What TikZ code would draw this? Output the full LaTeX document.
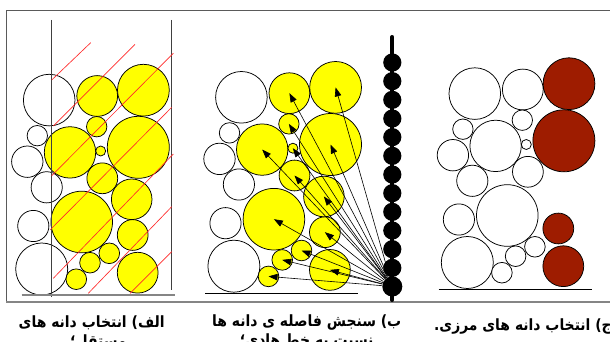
\documentclass[tikz,border=0pt]{standalone}
\usepackage{fontspec}
\usetikzlibrary{arrows.meta}
\TeXXeTstate=1
\newfontfamily\arabicfont[Script=Arabic,FakeStretch=0.9]{DejaVu Sans}
\definecolor{grainyellow}{HTML}{FFFF00}
\definecolor{grainred}{HTML}{9E1C00}
\definecolor{framegray}{HTML}{5A5A5A}
\definecolor{basegray}{HTML}{858585}
\definecolor{hatchred}{HTML}{FF2A2A}
\tikzset{
  grain/.style={draw=black, line width=0.75pt},
  whitegrain/.style={grain, fill=white},
  yellowgrain/.style={grain, fill=grainyellow},
  redgrain/.style={grain, fill=grainred},
  hatch/.style={draw=hatchred, line width=0.65pt},
  frameline/.style={draw=framegray, line width=0.9pt},
  guide/.style={draw=black!75, line width=0.8pt},
  caption/.style={font=\arabicfont\bfseries\fontsize{15.5}{18}\selectfont, anchor=base, inner sep=0pt},
  measure/.style={-{Triangle[length=9pt,width=6.5pt]}, line width=0.6pt},
  bead/.style={circle, fill=black, draw=none, inner sep=0pt, minimum size=18.2pt},
}
% grains: name/x/y/r (panel A coordinates)
\def\Wlist{w1/49.2/100.1/25.8, w2/37.3/135.7/10.2, w3/27.3/161.7/15.7, w4/46.7/187.3/15.6, w5/33.3/226/15.6, w6/41.7/269/26}
\def\Ylist{y7/97.2/96/20.4, y9/96.7/126.7/10.2, y10/70/152.4/25.7, y12/100.7/151/5, y13/102.3/178.3/15.4, y15/81.7/222/30.8, y17/109.3/253.3/10.3, y18/90/262.7/10.3, y19/76.3/279.2/10.3}
\def\Rlist{y8/143.4/90.2/25.9, y11/138.3/147.3/31, y16/132.7/235/15.4, y20/137.7/272.7/20.4}
\def\Xlist{y14/131.7/199.3/20.3}
\begin{document}
\begin{tikzpicture}[x=1pt,y=-1pt]
\useasboundingbox (0,0) rectangle (610,342);
\clip (0,0) rectangle (610,342);
\fill[white] (0,0) rectangle (610,342);
% frame
\draw[frameline] (615,10.7) -- (6.7,10.7) -- (6.7,301.7);
\draw[draw=basegray, line width=2pt] (6.2,301.7) -- (615,301.7);

% ---------- panel A ----------
\begin{scope}
  \foreach \n/\x/\y/\r in \Wlist {\draw[whitegrain] (\x,\y) circle[radius=\r];}
  \foreach \n/\x/\y/\r in \Ylist {\draw[yellowgrain] (\x,\y) circle[radius=\r];}
  \foreach \n/\x/\y/\r in \Rlist {\draw[yellowgrain] (\x,\y) circle[radius=\r];}
  \foreach \n/\x/\y/\r in \Xlist {\draw[yellowgrain] (\x,\y) circle[radius=\r];}
\end{scope}
\draw[guide] (51.7,20) -- (51.7,297);
\draw[guide] (171.7,20) -- (171.7,290);
\draw[draw=basegray, line width=1.6pt] (21.7,295) -- (175,295);
\draw[hatch] (51.7,80) -- (90.7,42.7);
\draw[hatch] (53.3,126) -- (135,44.3);
\draw[hatch] (51.7,175.7) -- (173.3,53.3);
\draw[hatch] (50,230) -- (171.7,107.3);
\draw[hatch] (53.3,278.3) -- (173.3,154);
\draw[hatch] (88.3,293.3) -- (171.7,206.7);
\draw[hatch] (130,293.3) -- (171.7,251.7);

% ---------- panel B ----------
\begin{scope}[shift={(192.2,-2.8)}]
  \foreach \n/\x/\y/\r in \Wlist {\draw[whitegrain] (\x,\y) circle[radius=\r];}
  \foreach \n/\x/\y/\r in \Ylist {\draw[yellowgrain] (\x,\y) circle[radius=\r]; \coordinate (b\n) at (\x,\y);}
  \foreach \n/\x/\y/\r in \Rlist {\draw[yellowgrain] (\x,\y) circle[radius=\r]; \coordinate (b\n) at (\x,\y);}
  \foreach \n/\x/\y/\r in \Xlist {\draw[yellowgrain] (\x,\y) circle[radius=\r]; \coordinate (b\n) at (\x,\y);}
\end{scope}
\draw[black, line width=1pt] (205,293.3) -- (358.3,293.3);
% conductor chain
\draw[black, line width=4pt, line cap=round] (392.3,37) -- (392.3,300);
\foreach \i in {1,...,12} {\node[bead] (bead\i) at (392.3,{62.5+18.67*(\i-1)}) {};}
\node[bead, minimum size=20pt] (bead13) at (392.3,286.5) {};
\foreach \n/\x/\y/\r in \Ylist {\draw[measure] (bead13) -- (b\n);}
\foreach \n/\x/\y/\r in \Rlist {\draw[measure] (bead13) -- (b\n);}
\foreach \n/\x/\y/\r in \Xlist {\draw[measure] (bead13) -- (b\n);}

% ---------- panel C ----------
\begin{scope}[shift={(425.6,-6.5)}]
  \foreach \n/\x/\y/\r in \Wlist {\draw[whitegrain] (\x,\y) circle[radius=\r];}
  \foreach \n/\x/\y/\r in \Ylist {\draw[whitegrain] (\x,\y) circle[radius=\r];}
  \foreach \n/\x/\y/\r in \Rlist {\draw[redgrain] (\x,\y) circle[radius=\r];}
\end{scope}
\draw[black, line width=1pt] (438.5,289.2) -- (591.7,289.2);

% ---------- captions ----------
\node[caption] (capA1) at (91.7,327) {\beginR الف) انتخاب دانه های\endR};
\node[caption] (capA2) at (98.3,346.5) {\beginR مستقل؛\endR};
\node[caption] (capB1) at (306.7,326) {\beginR ب) سنجش فاصله ی دانه ها\endR};
\node[caption] (capB2) at (306.7,345.5) {\beginR نسبت به خط هادی؛\endR};
\node[caption, anchor=base east] (capC) at (612,330) {\beginR ج) انتخاب دانه های مرزی.\endR};
\end{tikzpicture}
\end{document}
